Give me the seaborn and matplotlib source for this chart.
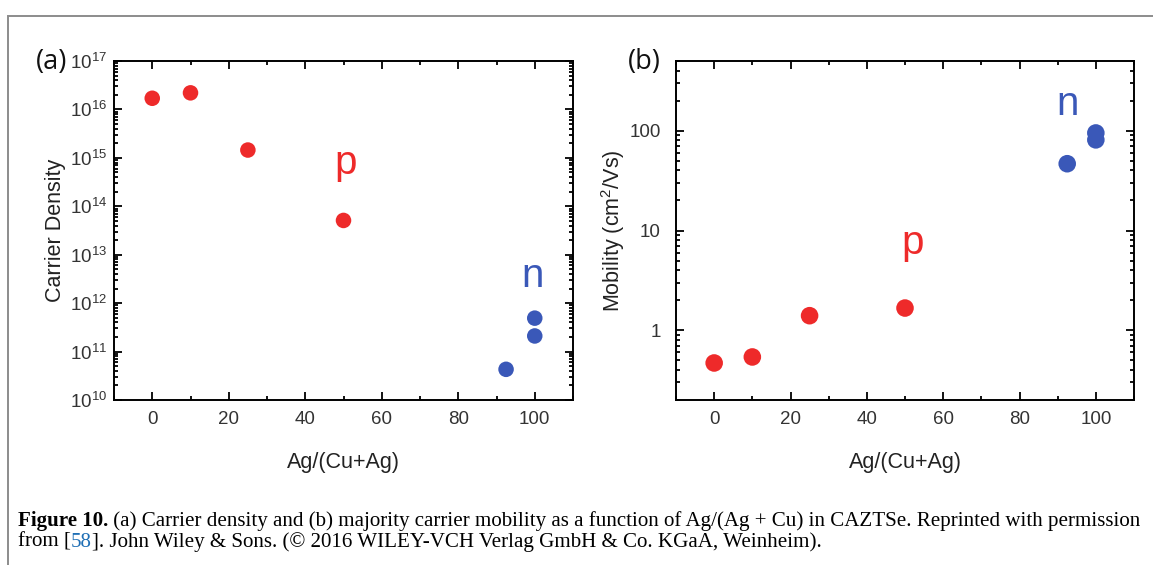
import numpy as np
import pandas as pd
import matplotlib
matplotlib.use("Agg")
import matplotlib.pyplot as plt
from matplotlib.ticker import LogLocator, MultipleLocator, FixedLocator, FixedFormatter, NullFormatter
from matplotlib.patches import Rectangle
import seaborn as sns

# ---------------- data ----------------
ag_ratio = [0, 10, 25, 50, 92.5, 100, 100]
carrier_type = ["p", "p", "p", "p", "n", "n", "n"]
carrier_density = [1.7e16, 2.2e16, 1.45e15, 5.1e13, 4.3e10, 4.9e11, 2.1e11]
mobility = [0.47, 0.54, 1.40, 1.67, 46.7, 95, 81]

x_ticks = [0, 20, 40, 60, 80, 100]
mob_ticks = [1, 10, 100]
mob_tick_labels = ["1", "10", "100"]

RED = "#ee2a2a"
BLUE = "#3a58b8"
palette = {"p": RED, "n": BLUE}

df = pd.DataFrame({"ag": ag_ratio, "type": carrier_type,
                   "density": carrier_density, "mobility": mobility})

# ---------------- style ----------------
sns.set_style("ticks")
plt.rcParams["font.family"] = ["Liberation Sans", "DejaVu Sans"]
plt.rcParams["mathtext.fontset"] = "custom"
plt.rcParams["mathtext.rm"] = "Liberation Sans"
plt.rcParams["mathtext.it"] = "Liberation Sans:italic"
plt.rcParams["mathtext.bf"] = "Liberation Sans:bold"

W, H = 1153, 565
fig = plt.figure(figsize=(W / 100, H / 100), dpi=100)
fig.patch.set_facecolor("white")


def ax_rect(l, t, r, b):
    return [l / W, 1 - b / H, (r - l) / W, (b - t) / H]


ax1 = fig.add_axes(ax_rect(114, 61, 573, 400))
ax2 = fig.add_axes(ax_rect(676, 61, 1134, 400))

sns.scatterplot(data=df, x="ag", y="density", hue="type", palette=palette,
                s=125, linewidth=0, legend=False, ax=ax1, zorder=3)
sns.scatterplot(data=df, x="ag", y="mobility", hue="type", palette=palette,
                s=160, linewidth=0, legend=False, ax=ax2, zorder=3)

TICK_COLOR = "#333333"
for ax in (ax1, ax2):
    ax.set_yscale("log")
    ax.set_xlim(-10, 110)
    ax.xaxis.set_major_locator(FixedLocator(x_ticks))
    ax.xaxis.set_minor_locator(MultipleLocator(10))
    ax.tick_params(which="both", direction="in", top=True, right=True,
                   width=1.3, color="black")
    ax.tick_params(which="major", length=6)
    ax.tick_params(which="minor", length=3)
    ax.tick_params(axis="x", which="major", pad=8, labelsize=13.5,
                   labelcolor=TICK_COLOR)
    for sp in ax.spines.values():
        sp.set_linewidth(1.4)
        sp.set_color("black")
    ax.set_xlabel("Ag/(Cu+Ag)", fontsize=15.5, labelpad=17, color="#222222")

# panel (a)
ax1.set_ylim(1e10, 1e17)
ax1.yaxis.set_major_locator(LogLocator(base=10, numticks=20))
ax1.yaxis.set_minor_locator(LogLocator(base=10, subs=np.arange(2, 10), numticks=200))
ax1.yaxis.set_minor_formatter(NullFormatter())
ax1.tick_params(axis="y", which="major", pad=5, labelsize=13.5, labelcolor=TICK_COLOR)
ax1.set_ylabel("Carrier Density", fontsize=15.5, labelpad=3, color="#222222")
ax1.text(50.6, 4.6e14, "p", color=RED, fontsize=29, ha="center", va="baseline")
ax1.text(99.5, 2.15e12, "n", color=BLUE, fontsize=29, ha="center", va="baseline")

# panel (b)
ax2.set_ylim(0.2, 500)
ax2.yaxis.set_major_locator(FixedLocator(mob_ticks))
ax2.yaxis.set_major_formatter(FixedFormatter(mob_tick_labels))
ax2.yaxis.set_minor_locator(LogLocator(base=10, subs=np.arange(2, 10), numticks=200))
ax2.yaxis.set_minor_formatter(NullFormatter())
ax2.tick_params(axis="y", which="major", pad=11, labelsize=13.5, labelcolor=TICK_COLOR)
ax2.set_ylabel("Mobility (cm$^2$/Vs)", fontsize=15.5, labelpad=1.5, color="#222222")
ax2.text(52, 5.87, "p", color=RED, fontsize=29, ha="center", va="baseline")
ax2.text(92.7, 145, "n", color=BLUE, fontsize=29, ha="center", va="baseline")

# panel letters
fig.text(52 / W, 1 - 62 / H, "(a)", fontsize=19.5, family=["Open Sans", "DejaVu Sans"],
         ha="center", va="center", color="#111111")
fig.text(644 / W, 1 - 62 / H, "(b)", fontsize=19.5, family=["Open Sans", "DejaVu Sans"],
         ha="center", va="center", color="#111111")

# figure frame
fig.patches.append(Rectangle((7.5 / W, -0.1), 1.2, (1 - 16 / H) + 0.1,
                             transform=fig.transFigure, fill=False,
                             edgecolor="#8c8c8c", linewidth=1.4))

# ---------------- caption ----------------
renderer = fig.canvas.get_renderer()
serif = ["Liberation Serif", "DejaVu Serif"]
line1 = [("Figure 10.", "bold", "black"),
         (" (a) Carrier density and (b) majority carrier mobility as a function of "
          "Ag/(Ag + Cu) in CAZTSe. Reprinted with permission", "normal", "black")]
line2 = [("from [", "normal", "black"), ("58", "normal", "#1f6fb5"),
         ("]. John Wiley & Sons. (\u00a9 2016 WILEY-VCH Verlag GmbH & Co. KGaA, Weinheim).",
          "normal", "black")]


def measure(parts, size):
    total = 0
    for s, wgt, col in parts:
        t = fig.text(0, 0, s, fontsize=size, family=serif, weight=wgt)
        total += t.get_window_extent(renderer=renderer).width
        t.remove()
    return total


target = 1140 - 18
base = 10
cap_size = base * target / measure(line1, base)


def place(parts, x0, ybase, size):
    x = x0
    for s, wgt, col in parts:
        t = fig.text(x / W, 1 - ybase / H, s, fontsize=size, family=serif,
                     weight=wgt, color=col, ha="left", va="baseline")
        x += t.get_window_extent(renderer=renderer).width


place(line1, 18, 526, cap_size)
place(line2, 18, 547, cap_size)

fig.savefig("out.png", dpi=100, facecolor="white")
